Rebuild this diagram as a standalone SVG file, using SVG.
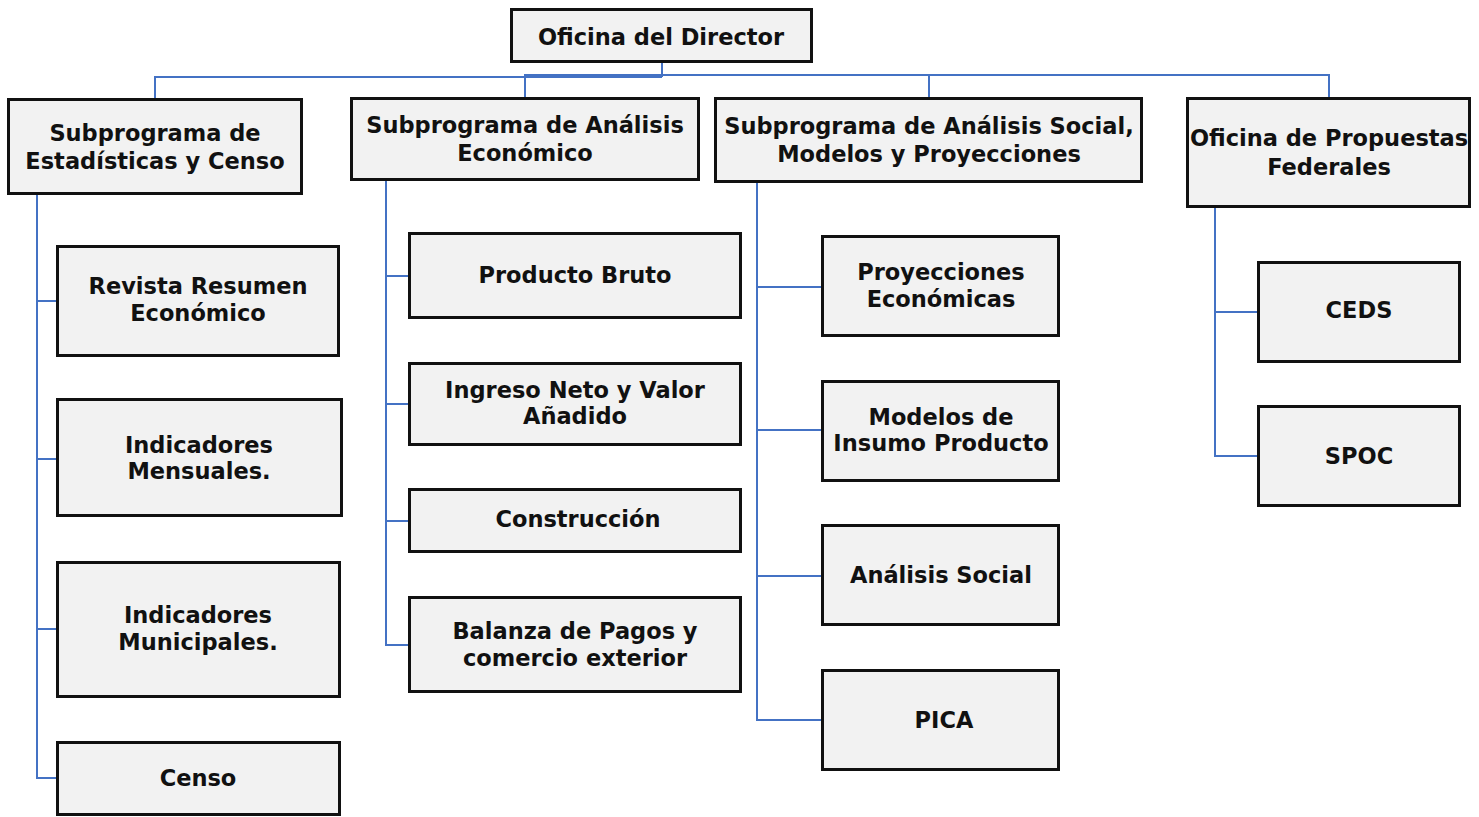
<svg xmlns="http://www.w3.org/2000/svg" width="1479" height="817" viewBox="0 0 1479 817">
<style>
.box{fill:#F2F2F2;stroke:#111;stroke-width:3}
.t{font-family:"DejaVu Sans","Liberation Sans",sans-serif;font-weight:bold;font-size:22.5px;fill:#111;text-anchor:middle}
.c{fill:none;stroke:#4472C4;stroke-width:2}
</style>
<rect width="1479" height="817" fill="#fff"/>
<g id="connectors">
<path class="c" d="M662 63V77M155 98V77H662M525 97V75H1329V97M929 75V97"/>
<path class="c" d="M37 195V778H56M37 301H56M37 459H56M37 629H56"/>
<path class="c" d="M386 181V645H408M386 276H408M386 404H408M386 521H408"/>
<path class="c" d="M757 183V720H821M757 287H821M757 430H821M757 576H821"/>
<path class="c" d="M1215 208V456H1257M1215 312H1257"/>
</g>
<g id="director"><rect class="box" x="511.5" y="9.5" width="300" height="52"/><text class="t" x="661" y="45">Oficina del Director</text></g>
<g id="estadisticas"><rect class="box" x="8.5" y="99.5" width="293" height="94"/><text class="t" x="155" y="141">Subprograma de</text><text class="t" x="155" y="169">Estadísticas y Censo</text></g>
<g id="economico"><rect class="box" x="351.5" y="98.5" width="347" height="81"/><text class="t" x="525" y="133">Subprograma de Análisis</text><text class="t" x="525" y="161">Económico</text></g>
<g id="social"><rect class="box" x="715.5" y="98.5" width="426" height="83"/><text class="t" x="929" y="134">Subprograma de Análisis Social,</text><text class="t" x="929" y="162">Modelos y Proyecciones</text></g>
<g id="propuestas"><rect class="box" x="1187.5" y="98.5" width="282" height="108"/><text class="t" x="1329" y="146">Oficina de Propuestas</text><text class="t" x="1329" y="175">Federales</text></g>
<g id="revista"><rect class="box" x="57.5" y="246.5" width="281" height="109"/><text class="t" x="198" y="294">Revista Resumen</text><text class="t" x="198" y="321">Económico</text></g>
<g id="mensuales"><rect class="box" x="57.5" y="399.5" width="284" height="116"/><text class="t" x="199" y="453">Indicadores</text><text class="t" x="199" y="479">Mensuales.</text></g>
<g id="municipales"><rect class="box" x="57.5" y="562.5" width="282" height="134"/><text class="t" x="198" y="623">Indicadores</text><text class="t" x="198" y="650">Municipales.</text></g>
<g id="censo"><rect class="box" x="57.5" y="742.5" width="282" height="72"/><text class="t" x="198" y="786">Censo</text></g>
<g id="producto"><rect class="box" x="409.5" y="233.5" width="331" height="84"/><text class="t" x="575" y="283">Producto Bruto</text></g>
<g id="ingreso"><rect class="box" x="409.5" y="363.5" width="331" height="81"/><text class="t" x="575" y="398">Ingreso Neto y Valor</text><text class="t" x="575" y="424">Añadido</text></g>
<g id="construccion"><rect class="box" x="409.5" y="489.5" width="331" height="62"/><text class="t" x="578" y="527">Construcción</text></g>
<g id="balanza"><rect class="box" x="409.5" y="597.5" width="331" height="94"/><text class="t" x="575" y="639">Balanza de Pagos y</text><text class="t" x="575" y="666">comercio exterior</text></g>
<g id="proyecciones"><rect class="box" x="822.5" y="236.5" width="236" height="99"/><text class="t" x="941" y="280">Proyecciones</text><text class="t" x="941" y="307">Económicas</text></g>
<g id="modelos"><rect class="box" x="822.5" y="381.5" width="236" height="99"/><text class="t" x="941" y="425">Modelos de</text><text class="t" x="941" y="451">Insumo Producto</text></g>
<g id="analisis-social"><rect class="box" x="822.5" y="525.5" width="236" height="99"/><text class="t" x="941" y="583">Análisis Social</text></g>
<g id="pica"><rect class="box" x="822.5" y="670.5" width="236" height="99"/><text class="t" x="944" y="728">PICA</text></g>
<g id="ceds"><rect class="box" x="1258.5" y="262.5" width="201" height="99"/><text class="t" x="1359" y="318">CEDS</text></g>
<g id="spoc"><rect class="box" x="1258.5" y="406.5" width="201" height="99"/><text class="t" x="1359" y="464">SPOC</text></g>
</svg>
